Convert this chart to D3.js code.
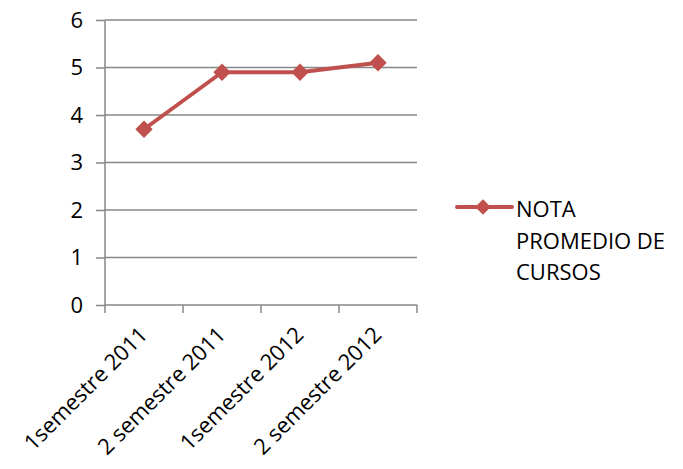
<!DOCTYPE html>
<html>
<head>
<meta charset="utf-8">
<script src="https://cdn.jsdelivr.net/npm/d3@7"></script>
<style>
  body { margin: 0; background: #fff; }
  text { font-family: "Open Sans", sans-serif; fill: #000; }
</style>
</head>
<body>
<svg id="chart" width="683" height="469"></svg>
<script>
const categories = ['1semestre 2011', '2 semestre 2011', '1semestre 2012', '2 semestre 2012'];
const notaValues = [3.7, 4.9, 4.9, 5.1];
const yTicks = [0, 1, 2, 3, 4, 5, 6];
const seriesName = ['NOTA', 'PROMEDIO DE', 'CURSOS'];

const svg = d3.select('#chart');
const lineColor = '#c0504d';
const gridColor = '#878787';
const fontSize = 22;

const x = d3.scaleBand().domain(categories).range([105, 417]);
const y = d3.scaleLinear().domain([0, 6]).range([305, 20]);

// gridlines
svg.append('g')
  .selectAll('line')
  .data(yTicks.filter(d => d > 0))
  .join('line')
  .attr('x1', 105).attr('x2', 417)
  .attr('y1', d => y(d)).attr('y2', d => y(d))
  .attr('stroke', gridColor)
  .attr('stroke-width', 1.5);

// y axis
const yAxis = svg.append('g')
  .attr('transform', 'translate(105,0)')
  .call(d3.axisLeft(y).tickValues(yTicks).tickSize(9).tickPadding(13).tickFormat(d3.format('d')));
yAxis.selectAll('line, path').attr('stroke', gridColor).attr('stroke-width', 1.5);
yAxis.select('.domain').attr('d', 'M0,20V305');
yAxis.selectAll('text').attr('font-size', fontSize).style('font-family', '"Open Sans", sans-serif').attr('fill', '#000');

// x axis
const xAxis = svg.append('g')
  .attr('transform', 'translate(0,305)');
xAxis.append('line')
  .attr('x1', 105).attr('x2', 417).attr('y1', 0).attr('y2', 0)
  .attr('stroke', gridColor).attr('stroke-width', 1.5);
const bounds = categories.map(c => x(c)).concat([x.range()[1]]);
xAxis.selectAll('line.tick')
  .data(bounds)
  .join('line')
  .attr('class', 'tick')
  .attr('x1', d => d).attr('x2', d => d)
  .attr('y1', 0).attr('y2', 8)
  .attr('stroke', gridColor).attr('stroke-width', 1.5);
xAxis.selectAll('text')
  .data(categories)
  .join('text')
  .attr('transform', d => `translate(${x(d) + x.bandwidth() / 2 + 5},${31}) rotate(-45)`)
  .attr('text-anchor', 'end')
  .attr('font-size', fontSize)
  .text(d => d);

// series line
const line = d3.line()
  .x((d, i) => x(categories[i]) + x.bandwidth() / 2)
  .y(d => y(d));
svg.append('path')
  .datum(notaValues)
  .attr('d', line)
  .attr('fill', 'none')
  .attr('stroke', lineColor)
  .attr('stroke-width', 4)
  .attr('stroke-linejoin', 'round');

svg.append('g')
  .selectAll('path')
  .data(notaValues)
  .join('path')
  .attr('transform', (d, i) => `translate(${x(categories[i]) + x.bandwidth() / 2},${y(d)}) rotate(45)`)
  .attr('d', d3.symbol().type(d3.symbolSquare).size(150))
  .attr('fill', lineColor);

// legend
const legend = svg.append('g').attr('transform', 'translate(457,207)');
legend.append('line')
  .attr('x1', 0).attr('x2', 55)
  .attr('stroke', lineColor).attr('stroke-width', 4).attr('stroke-linecap', 'round');
legend.append('path')
  .attr('transform', 'translate(26,0) rotate(45)')
  .attr('d', d3.symbol().type(d3.symbolSquare).size(120))
  .attr('fill', lineColor);
legend.selectAll('text')
  .data(seriesName)
  .join('text')
  .attr('x', 59)
  .attr('y', (d, i) => 10 + i * 31.5)
  .attr('font-size', fontSize)
  .text(d => d);
</script>
</body>
</html>
